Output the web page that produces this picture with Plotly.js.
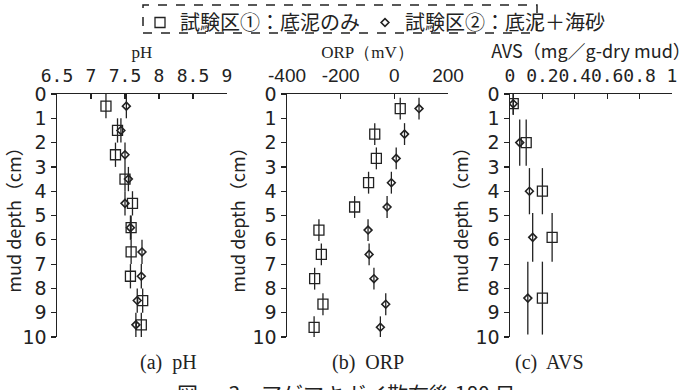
<!DOCTYPE html>
<html>
<head>
<meta charset="utf-8">
<script src="https://cdn.plot.ly/plotly-3.0.1.min.js"></script>
<style>html,body{margin:0;padding:0;background:#fff;}#chart{width:700px;height:390px;}</style>
</head>
<body>
<div id="chart"></div>
<script>
// ---- data ----
const seriesNames = ["試験区①：底泥のみ", "試験区②：底泥＋海砂"];

const phDepth = [0.5, 1.5, 2.5, 3.5, 4.5, 5.5, 6.5, 7.5, 8.5, 9.5];
const phSite1 = [7.22, 7.39, 7.36, 7.50, 7.61, 7.59, 7.59, 7.58, 7.76, 7.74];
const phSite2 = [7.52, 7.44, 7.50, 7.55, 7.50, 7.58, 7.75, 7.74, 7.68, 7.66];
const phLayerHalf = [0.5, 0.5, 0.5, 0.5, 0.5, 0.5, 0.5, 0.5, 0.5, 0.5];

const orpDepth = [0.6, 1.65, 2.65, 3.65, 4.65, 5.6, 6.6, 7.6, 8.65, 9.6];
const orpSite1 = [22, -73, -67, -96, -148, -281, -272, -297, -266, -299];
const orpSite2 = [92, 38, 7, -11, -27, -98, -94, -76, -32, -52];
const orpLayerHalf = [0.45, 0.45, 0.45, 0.45, 0.45, 0.45, 0.45, 0.45, 0.45, 0.45];

const avsDepth = [0.4, 2, 4, 5.9, 8.4];
const avsSite1 = [0.02, 0.10, 0.20, 0.26, 0.20];
const avsSite2 = [0.02, 0.06, 0.12, 0.14, 0.11];
const avsLayerHalf = [0.45, 0.95, 0.95, 1.0, 1.5];

const phTicks = [6.5, 7, 7.5, 8, 8.5, 9];
const orpTicks = [-400, -200, 0, 200];
const orpTickText = ["-400", "-200", "0", "200"];
const avsTicks = [0, 0.2, 0.4, 0.6, 0.8, 1];
const avsTickText = ["0", "0.2", "0.4", "0.6", "0.8", "1"];
const depthTicks = [0, 1, 2, 3, 4, 5, 6, 7, 8, 9, 10];

// ---- styles ----
const ink = "#222";
const sans = "Noto Sans CJK JP, DejaVu Sans, sans-serif";
const mono = "DejaVu Sans Mono, monospace";
const serif = "Liberation Serif, DejaVu Serif, serif";

function tr(x, y, err, which, xa, ya, showLegend) {
  const sq = which === 0;
  return {
    type: "scatter", mode: "markers", x: x, y: y,
    xaxis: xa, yaxis: ya, name: seriesNames[which], showlegend: showLegend,
    legendgroup: "g" + which,
    marker: sq ? {symbol: "square-open", size: 10, color: ink, line: {width: 1.3, color: ink}}
               : {symbol: "diamond-open", size: 6, color: ink, line: {width: 1.6, color: ink}},
    error_y: {type: "data", array: err, symmetric: true, width: 0, thickness: 1.3, color: ink}
  };
}

const data = [
  tr(phSite1, phDepth, phLayerHalf, 0, "x", "y", true),
  tr(phSite2, phDepth, phLayerHalf, 1, "x", "y", true),
  tr(orpSite1, orpDepth, orpLayerHalf, 0, "x2", "y2", false),
  tr(orpSite2, orpDepth, orpLayerHalf, 1, "x2", "y2", false),
  tr(avsSite1, avsDepth, avsLayerHalf, 0, "x3", "y3", false),
  tr(avsSite2, avsDepth, avsLayerHalf, 1, "x3", "y3", false)
];

const yDom = [1 - 337/390, 1 - 94/390];
function xax(dom, range, ticks, title, tfont, ttext, tickFont) {
  const a = {
    domain: dom, range: range, side: "top", tickmode: "array", tickvals: ticks, tickangle: 0,
    showline: true, linecolor: ink, linewidth: 1.5, ticks: "inside", ticklen: 5, tickcolor: ink, tickwidth: 1.2,
    showgrid: false, zeroline: false, tickfont: tickFont || {family: mono, size: 18, color: ink},
    ticklabelstandoff: 3,
    title: {text: title, font: tfont, standoff: 2}
  };
  if (ttext) a.ticktext = ttext;
  return a;
}
function yax(anchor) {
  return {
    domain: yDom, range: [10, 0], anchor: anchor, tickmode: "array", tickvals: depthTicks,
    showline: true, linecolor: ink, linewidth: 1.5, ticks: "outside", ticklen: 5, tickcolor: ink, tickwidth: 1.2,
    showgrid: false, zeroline: false, tickfont: {family: "DejaVu Sans, sans-serif", size: 19, color: ink},
    title: {text: "mud depth（cm）", font: {family: sans, size: 18, color: ink}, standoff: 2}
  };
}

const layout = {
  width: 700, height: 390,
  margin: {l: 0, r: 0, t: 0, b: 0},
  paper_bgcolor: "#fff", plot_bgcolor: "rgba(0,0,0,0)",
  showlegend: true,
  legend: {orientation: "h", x: 140/700, xanchor: "left", y: 1 - 3/390, yanchor: "top",
           font: {family: sans, size: 20, color: ink}, bgcolor: "rgba(0,0,0,0)",
           itemwidth: 30, traceorder: "normal"},
  xaxis: xax([57/700, 227/700], [6.5, 9], phTicks, "pH", {family: serif, size: 17, color: ink}),
  xaxis2: xax([287/700, 448/700], [-400, 200], orpTicks, "ORP（mV）", {family: serif, size: 17, color: ink},
              orpTickText, {family: "Liberation Sans, Arial, sans-serif", size: 19, color: ink}),
  xaxis3: xax([510/700, 672/700], [0, 1], avsTicks, "AVS（mg／g-dry mud）", {family: sans, size: 18, color: ink}, avsTickText),
  yaxis: yax("x"),
  yaxis2: yax("x2"),
  yaxis3: yax("x3"),
  shapes: [
    {type: "rect", xref: "paper", yref: "paper", x0: 143/700, x1: 537/700, y0: 1 - 33/390, y1: 1 - 5/390,
     line: {color: ink, width: 1.5, dash: "dash"}}
  ],
  annotations: [
    {text: "(a)  pH", x: 138/700, y: 1 - 376/390, xref: "paper", yref: "paper", showarrow: false, font: {family: serif, size: 20, color: ink}},
    {text: "(b)  ORP", x: 368/700, y: 1 - 376/390, xref: "paper", yref: "paper", showarrow: false, font: {family: serif, size: 20, color: ink}},
    {text: "(c)  AVS", x: 586/700, y: 1 - 376/390, xref: "paper", yref: "paper", showarrow: false, font: {family: serif, size: 20, color: ink}},
    {text: "図 － 3　アゲマキガイ散布後 180 日", x: 346/700, y: 1 - 393/390, xref: "paper", yref: "paper", yanchor: "middle", showarrow: false, font: {family: "Noto Sans CJK JP, sans-serif", size: 21, color: ink}}
  ]
};

Plotly.newPlot("chart", data, layout, {staticPlot: true, displayModeBar: false});
</script>
</body>
</html>
